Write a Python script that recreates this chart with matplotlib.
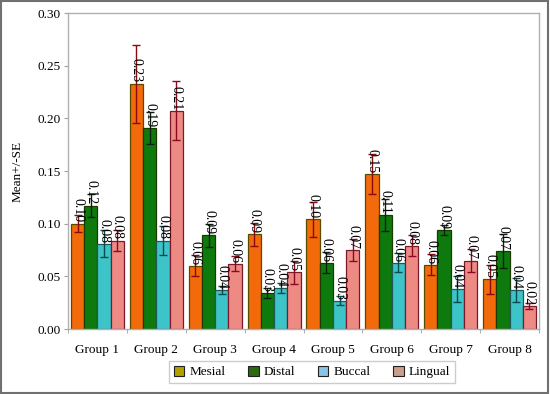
import matplotlib
matplotlib.use("Agg")
import matplotlib.pyplot as plt
import numpy as np
from matplotlib.patches import Patch, Rectangle

groups = ["Group 1", "Group 2", "Group 3", "Group 4", "Group 5", "Group 6", "Group 7", "Group 8"]
series = ["Mesial", "Distal", "Buccal", "Lingual"]
mesial = [0.100, 0.233, 0.060, 0.090, 0.104, 0.147, 0.061, 0.047]
distal = [0.117, 0.191, 0.089, 0.034, 0.063, 0.108, 0.094, 0.074]
buccal = [0.081, 0.084, 0.037, 0.039, 0.027, 0.063, 0.038, 0.037]
lingual = [0.084, 0.207, 0.062, 0.054, 0.075, 0.079, 0.065, 0.022]
mesial_se = [0.008, 0.037, 0.010, 0.011, 0.017, 0.019, 0.010, 0.014]
distal_se = [0.011, 0.015, 0.011, 0.005, 0.010, 0.015, 0.005, 0.016]
buccal_se = [0.013, 0.014, 0.004, 0.005, 0.004, 0.009, 0.012, 0.011]
lingual_se = [0.010, 0.028, 0.007, 0.011, 0.010, 0.010, 0.011, 0.003]

values = [mesial, distal, buccal, lingual]
errors = [mesial_se, distal_se, buccal_se, lingual_se]
bar_colors = ["#F26A0A", "#0E7A0E", "#3CC4C8", "#EE8A84"]
edge_colors = ["#5A4A00", "#1A3A00", "#1E5A5A", "#7A1A2A"]
err_colors = ["#8A0A10", "#102010", "#0A4A4A", "#8A0A20"]
legend_colors = ["#B0A000", "#2A6A10", "#88C4E4", "#C8A08C"]

plt.rcParams["font.family"] = ["Liberation Serif", "DejaVu Serif"]

fig = plt.figure(figsize=(5.5, 3.94), dpi=100)
fig.patches.append(Rectangle((0.002, 0.003), 0.995, 0.994, transform=fig.transFigure,
                             fill=False, edgecolor="#707070", linewidth=1.5))
ax = fig.add_axes([68 / 550, 1 - 329 / 394, (539 - 68) / 550, (329 - 13) / 394])

x = np.arange(len(groups))
w = 0.225
for i, (vals, errs) in enumerate(zip(values, errors)):
    pos = x + (i - 1.5) * w
    ax.bar(pos, vals, width=w, color=bar_colors[i], edgecolor=edge_colors[i], linewidth=0.9, zorder=2)
    ax.errorbar(pos, vals, yerr=errs, fmt="none", ecolor=err_colors[i], elinewidth=1.0,
                capsize=3, capthick=1.0, zorder=3)
    for p, v in zip(pos, vals):
        ax.text(p, v + 0.001, f"{v:.2f}", rotation=270, ha="center", va="bottom",
                fontsize=10, zorder=4)

ax.set_xlim(-0.5, len(groups) - 0.5)
ax.set_ylim(0, 0.30)
ax.set_yticks(np.arange(0, 0.301, 0.05))
ax.set_yticklabels([f"{t:.2f}" for t in np.arange(0, 0.301, 0.05)], fontsize=9.5)
ax.set_xticks(x)
ax.set_xticklabels(groups, fontsize=9.5)
ax.set_xticks(np.arange(-0.5, len(groups)), minor=True)
ax.tick_params(axis="x", which="major", length=0, pad=11)
ax.tick_params(axis="x", which="minor", length=3, color="#A0A0A0")
ax.tick_params(axis="y", length=3, color="#A0A0A0", pad=2)
for s in ax.spines.values():
    s.set_color("#B0B0B0")
    s.set_linewidth(1.0)
ax.set_ylabel("Mean+/-SE", fontsize=9.5, labelpad=10)

handles = [Patch(facecolor=c, edgecolor="#202020", linewidth=0.8) for c in legend_colors]
leg = fig.legend(handles, series, loc="center", bbox_to_anchor=(312 / 550, 1 - 372 / 394),
                 ncol=4, fontsize=9.5, frameon=True, fancybox=False, handlelength=0.8,
                 handleheight=0.8, handletextpad=0.4, columnspacing=1.7, borderpad=0.35)
leg.get_frame().set_edgecolor("#C0C0C0")
leg.get_frame().set_linewidth(1.0)

fig.savefig("out.png", dpi=100)
